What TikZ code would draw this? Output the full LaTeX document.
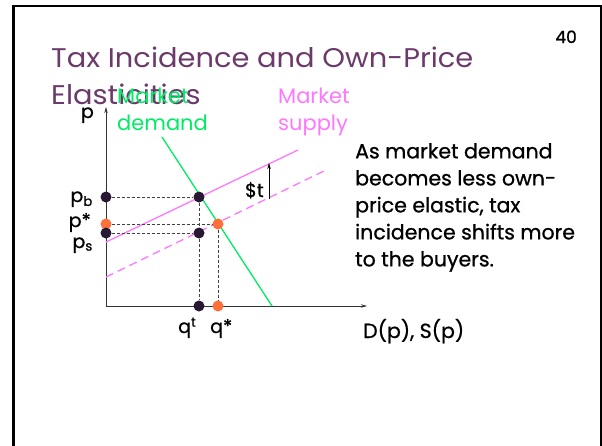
\documentclass[tikz,border=0pt]{standalone}
\usepackage{fontspec}
\setmainfont{Poppins}
\newfontfamily\medfont{Poppins}[FakeBold=0.8]
\newfontfamily\titlefont{Poppins}[FakeStretch=1.07]
\usetikzlibrary{arrows.meta, positioning}
\definecolor{titlepurple}{RGB}{107, 58, 107}
\definecolor{mktgreen}{RGB}{0, 236, 100}
\definecolor{mktpink}{RGB}{255, 119, 255}
\definecolor{dotdark}{RGB}{40, 24, 52}
\definecolor{dotorange}{RGB}{255, 111, 58}

\begin{document}
\begin{tikzpicture}[x=1pt, y=-1pt,
  dot/.style={circle, inner sep=0pt, minimum size=11pt, fill=dotdark},
  eqdot/.style={dot, fill=dotorange},
  guide/.style={densely dashed, line width=0.8pt, black!75},
  lbl/.style={inner sep=0pt, font=\medfont\fontsize{19}{22}\selectfont},
  axis/.style={line width=0.8pt, black!80, -{Stealth[length=6pt, width=3.5pt]}}
]
  \useasboundingbox (0,0) rectangle (602,445);
  \draw[line width=2.5pt] (13.5,460) -- (13.5,6) -- (601,6) -- (601,460);

  % title and slide number
  \node[anchor=base west, inner sep=0pt, text=titlepurple, font=\titlefont\fontsize{27}{30}\selectfont] (title1) at (51,67) {Tax Incidence and Own-Price};
  \node[anchor=base west, inner sep=0pt, text=titlepurple, font=\titlefont\fontsize{27}{30}\selectfont] (title2) at (51,104) {Elasticities};
  \node[anchor=base east, inner sep=0pt, font=\medfont\fontsize{17}{20}\selectfont] (num) at (577,43) {40};

  % axes
  \coordinate (O) at (106,306);
  \coordinate (ytop) at (106,107);
  \coordinate (xend) at (367,306);
  \draw[axis] (O) -- (ytop);
  \draw[axis] (O) -- (xend);
  \node[lbl, anchor=base east] (plabel) at (94,118) {p};
  \node[lbl, anchor=base west, font=\medfont\fontsize{20.5}{24}\selectfont] (xlabel) at (363,338) {D(p), S(p)};

  % demand and supply
  \coordinate (d1) at (162,137);
  \coordinate (d2) at (272,306);
  \coordinate (s1) at (106,242);
  \coordinate (s2) at (298,150);
  \coordinate (s01) at (106,277);
  \coordinate (s02) at (328,169);
  \draw[mktgreen, line width=1.3pt] (d1) -- (d2);
  \draw[mktpink, line width=1.3pt] (s1) -- (s2);
  \draw[mktpink, line width=1.3pt, dash pattern=on 8pt off 5pt] (s01) -- (s02);

  % tax wedge
  \coordinate (tlow) at (269,199);
  \coordinate (thigh) at (269,163);
  \draw[line width=0.8pt, -{Stealth[length=6pt, width=3.5pt]}] (tlow) -- (thigh);
  \node[lbl, anchor=base east] (tlabel) at (264,197) {\$t};

  % prices and quantities
  \node[dot] (pb) at (106,197) {};
  \node[dot] (E1) at (199,197) {};
  \node[eqdot] (pstar) at (106,224) {};
  \node[eqdot] (E0) at (218,224) {};
  \node[dot] (ps) at (106,233) {};
  \node[dot] (F) at (199,233) {};
  \node[dot] (qt) at (199,306) {};
  \node[eqdot] (qstar) at (218,306) {};
  \draw[guide] (pb) -- (E1);
  \draw[guide] (pstar) -- (E0);
  \draw[guide] (ps) -- (F);
  \draw[guide] (E1) -- (F);
  \draw[guide] (F) -- (qt);
  \draw[guide] (E0) -- (qstar);

  \node[lbl, anchor=base east] (pblabel) at (93,202) {p\textsubscript{b}};
  \node[lbl, anchor=base east] (pstarlabel) at (91,227) {p*};
  \node[lbl, anchor=base east] (pslabel) at (93,248) {p\textsubscript{s}};
  \node[lbl, anchor=base west] (qtlabel) at (178,333) {q\textsuperscript{t}};
  \node[lbl, anchor=base west] (qstarlabel) at (210,333) {q*};

  % curve labels
  \node[lbl, anchor=base west, text=mktgreen, font=\fontsize{21}{24}\selectfont] (dlabel1) at (117,103) {Market};
  \node[lbl, anchor=base west, text=mktgreen, font=\fontsize{21}{24}\selectfont] (dlabel2) at (117,130) {demand};
  \node[lbl, anchor=base west, text=mktpink, font=\fontsize{21}{24}\selectfont] (slabel1) at (278,103) {Market};
  \node[lbl, anchor=base west, text=mktpink, font=\fontsize{21}{24}\selectfont] (slabel2) at (278,130) {supply};

  % comment on the right
  \node[lbl, anchor=north west, align=left, font=\medfont\fontsize{20.5}{27}\selectfont] (note) at (355,143)
    {As market demand\\becomes less own-\\price elastic, tax\\incidence shifts more\\to the buyers.};
\end{tikzpicture}
\end{document}
